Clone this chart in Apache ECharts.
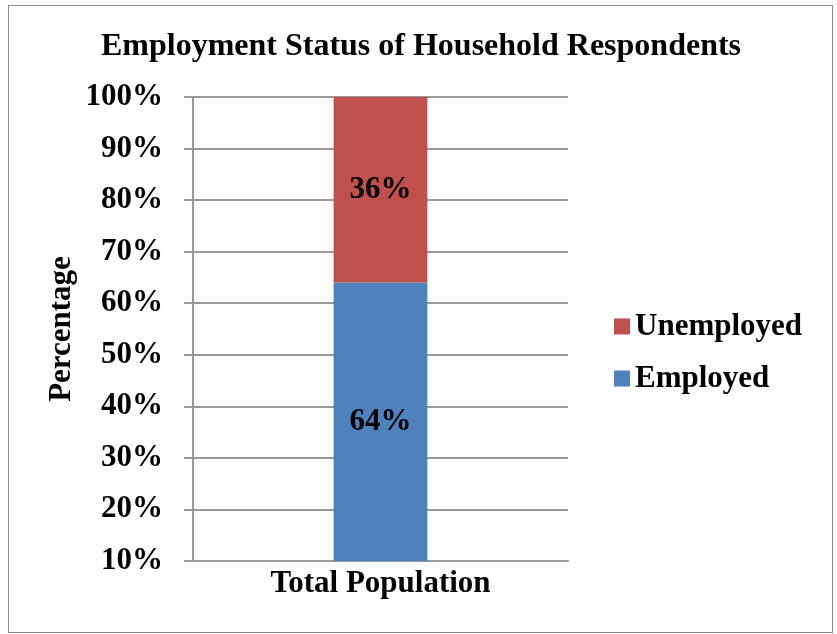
<!DOCTYPE html>
<html>
<head>
<meta charset="utf-8">
<script src="https://cdn.jsdelivr.net/npm/echarts@6/dist/echarts.min.js"></script>
<style>
  html, body { margin: 0; padding: 0; background: #fff; }
  #chart { width: 837px; height: 634px; }
  #frame { position: absolute; left: 8px; top: 5px; width: 825px; height: 628px; border: 1px solid #8c8c8c; box-sizing: border-box; pointer-events: none; }
</style>
</head>
<body>
<div id="chart"></div>
<div id="frame"></div>
<script>
// data
var categories = ['Total Population'];
var employed = [64];
var unemployed = [36];
var yTicks = [10, 100, 10]; // min, max, step

var font = '"Liberation Serif", "Times New Roman", serif';

var chart = echarts.init(document.getElementById('chart'));
chart.setOption({
    animation: false,
    title: {
        text: 'Employment Status of Household Respondents',
        left: 416,
        top: 26,
        textAlign: 'center',
        textStyle: { fontFamily: font, fontSize: 32, fontWeight: 'bold', color: '#000' }
    },
    legend: {
        orient: 'vertical',
        left: 609,
        top: 306,
        itemWidth: 16,
        itemHeight: 16,
        itemGap: 21,
        icon: 'rect',
        data: ['Unemployed', 'Employed'],
        textStyle: { fontFamily: font, fontSize: 31, fontWeight: 'bold', color: '#000' }
    },
    grid: { left: 193, right: 269, top: 97, bottom: 73 },
    xAxis: {
        type: 'category',
        data: categories,
        axisLine: { lineStyle: { color: '#999', width: 2 } },
        axisTick: { show: false },
        axisLabel: { fontFamily: font, fontSize: 31, fontWeight: 'bold', color: '#000', margin: 7 }
    },
    yAxis: {
        type: 'value',
        min: yTicks[0],
        max: yTicks[1],
        interval: yTicks[2],
        name: 'Percentage',
        nameLocation: 'middle',
        nameGap: 116,
        nameTextStyle: { fontFamily: font, fontSize: 31, fontWeight: 'bold', color: '#000' },
        axisLine: { show: true, lineStyle: { color: '#999', width: 2 } },
        axisTick: { show: true, length: 9, lineStyle: { color: '#999', width: 2 } },
        axisLabel: { formatter: '{value}%', fontFamily: font, fontSize: 31, fontWeight: 'bold', color: '#000', margin: 30 },
        splitLine: { lineStyle: { color: '#999', width: 2 } }
    },
    series: [
        {
            name: 'Employed',
            type: 'bar',
            stack: 'total',
            barWidth: '25%',
            data: employed,
            itemStyle: { color: '#4F81BD' },
            label: { show: true, position: 'inside', formatter: '{c}%', fontFamily: font, fontSize: 31, fontWeight: 'bold', color: '#000' }
        },
        {
            name: 'Unemployed',
            type: 'bar',
            stack: 'total',
            barWidth: '25%',
            data: unemployed,
            itemStyle: { color: '#C0504D' },
            label: { show: true, position: 'inside', formatter: '{c}%', fontFamily: font, fontSize: 31, fontWeight: 'bold', color: '#000' }
        }
    ]
});
</script>
</body>
</html>
